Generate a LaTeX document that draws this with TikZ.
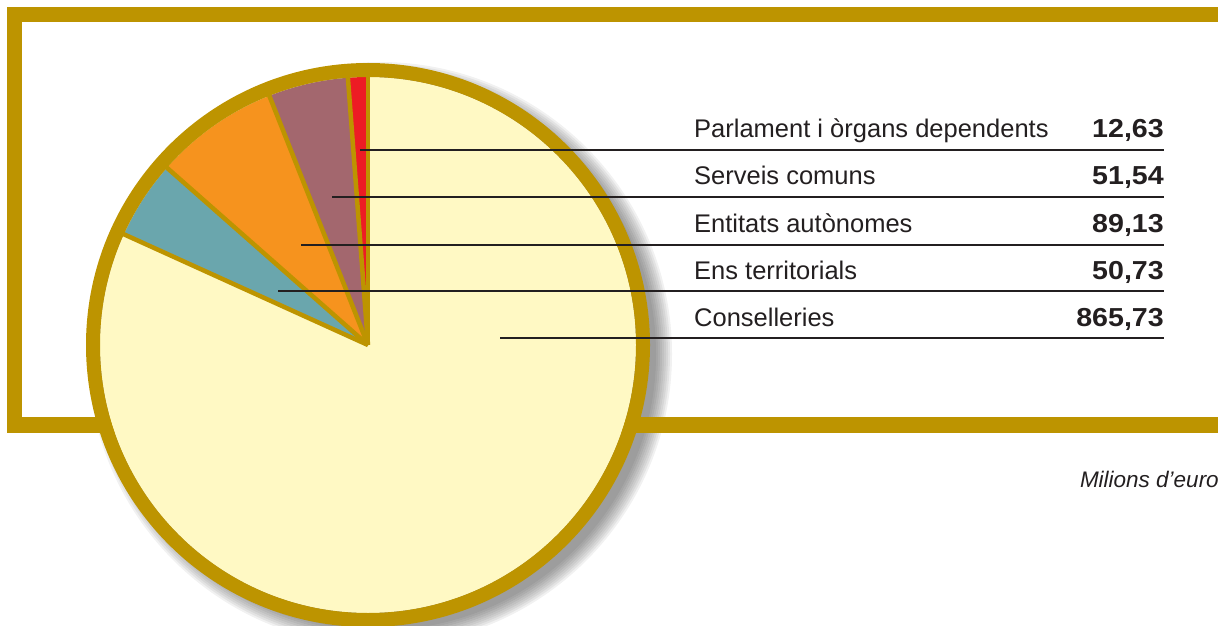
\documentclass[tikz,border=0pt]{standalone}
\usepackage{fontspec}
\setmainfont{Liberation Sans}
\newfontfamily\valuefont[FakeStretch=1.1]{Liberation Sans}
\usetikzlibrary{calc}

\definecolor{gold}{RGB}{189,148,0}
\definecolor{pieyellow}{RGB}{255,249,196}
\definecolor{piered}{RGB}{237,28,36}
\definecolor{piemauve}{RGB}{163,103,110}
\definecolor{pieorange}{RGB}{246,147,30}
\definecolor{pieteal}{RGB}{106,166,173}
\definecolor{leader}{RGB}{35,31,32}

\begin{document}
\begin{tikzpicture}[x=1pt,y=1pt]
\useasboundingbox (0,0) rectangle (1218,625);

% drop shadow of the pie
\foreach \r in {276,278,...,292}
    \fill[black!80,opacity=0.07] (380,271) circle (\r);

% frame
\draw[gold,line width=15.5] (1240,610.5) -- (14.5,610.5) -- (14.5,200) -- (1240,200);

% pie
\coordinate (Centre) at (368,280);
\fill[pieyellow] (Centre) circle (268);
\fill[piered]    (Centre) -- ++(90:268)    arc (90:94.3:268)    -- cycle;
\fill[piemauve]  (Centre) -- ++(94.3:268)  arc (94.3:111.6:268)  -- cycle;
\fill[pieorange] (Centre) -- ++(111.6:268) arc (111.6:138.6:268) -- cycle;
\fill[pieteal]   (Centre) -- ++(138.6:268) arc (138.6:155.6:268) -- cycle;
\foreach \a in {90,94.3,111.6,138.6,155.6}
    \draw[gold,line width=4.5] (Centre) -- ++(\a:272);
\draw[gold,line width=14] (Centre) circle (275);

% labels
\begin{scope}[every node/.style={inner sep=0pt,font=\fontsize{25.5}{30}\selectfont,text=leader}]
    \node[anchor=base west] (Parlament)    at (694,487) {Parlament i òrgans dependents};
    \node[anchor=base west] (Serveis)      at (694,440) {Serveis comuns};
    \node[anchor=base west] (Entitats)     at (694,392) {Entitats autònomes};
    \node[anchor=base west] (Ens)          at (694,346) {Ens territorials};
    \node[anchor=base west] (Conselleries) at (694,299) {Conselleries};
\end{scope}

\begin{scope}[every node/.style={inner sep=0pt,anchor=base east,text=leader,
              font=\valuefont\fontsize{26}{30}\selectfont\bfseries}]
    \node (ParlamentVal)    at (1164,487) {12,63};
    \node (ServeisVal)      at (1164,440) {51,54};
    \node (EntitatsVal)     at (1164,392) {89,13};
    \node (EnsVal)          at (1164,346) {50,73};
    \node (ConselleriesVal) at (1164,299) {865,73};
\end{scope}

\node[inner sep=0pt,anchor=base east,text=leader,font=\fontsize{22.5}{26}\selectfont\itshape]
    (Unitats) at (1219,138) {Milions d’euro};

% leader lines
\coordinate (ParlamentIn)    at (360,475);
\coordinate (ServeisIn)      at (332,428);
\coordinate (EntitatsIn)     at (301,380);
\coordinate (EnsIn)          at (278,334);
\coordinate (ConselleriesIn) at (500,287);
\begin{scope}[leader,line width=2]
    \draw (ParlamentIn)    -- (ParlamentIn -| ParlamentVal.east);
    \draw (ServeisIn)      -- (ServeisIn -| ServeisVal.east);
    \draw (EntitatsIn)     -- (EntitatsIn -| EntitatsVal.east);
    \draw (EnsIn)          -- (EnsIn -| EnsVal.east);
    \draw (ConselleriesIn) -- (ConselleriesIn -| ConselleriesVal.east);
\end{scope}
\end{tikzpicture}
\end{document}
